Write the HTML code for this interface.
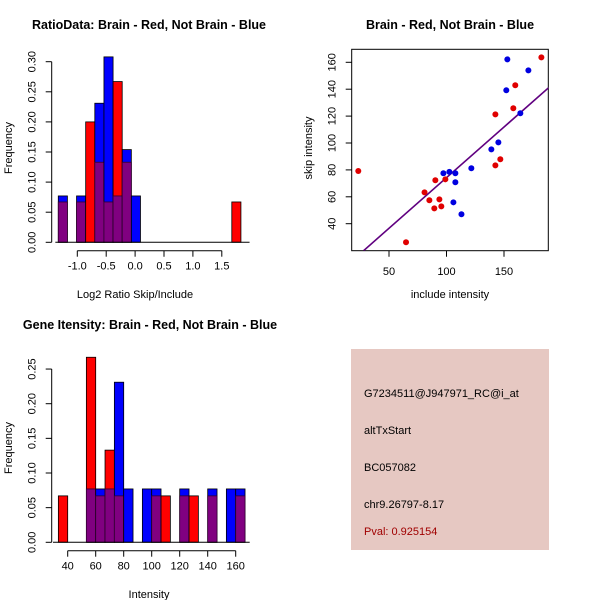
<!DOCTYPE html>
<html><head><meta charset="utf-8"><style>
html,body{margin:0;padding:0;background:#fff}
svg{display:block;font-family:"Liberation Sans",sans-serif}
</style></head><body>
<svg id="c" width="600" height="600" viewBox="0 0 600 600">
<rect width="600" height="600" fill="#fff"/>
<text x="149" y="29" text-anchor="middle" font-weight="bold" font-size="12.5">RatioData: Brain - Red, Not Brain - Blue</text>
<text x="450" y="29" text-anchor="middle" font-weight="bold" font-size="12.5">Brain - Red, Not Brain - Blue</text>
<text x="150" y="329" text-anchor="middle" font-weight="bold" font-size="12.5">Gene Itensity: Brain - Red, Not Brain - Blue</text>
<text x="135" y="298" text-anchor="middle" font-size="11">Log2 Ratio Skip/Include</text>
<text x="12" y="148" text-anchor="middle" font-size="11" transform="rotate(-90 12 148)">Frequency</text>
<text x="450" y="298" text-anchor="middle" font-size="11">include intensity</text>
<text x="312" y="148" text-anchor="middle" font-size="11" transform="rotate(-90 312 148)">skip intensity</text>
<text x="149" y="598" text-anchor="middle" font-size="11">Intensity</text>
<text x="12" y="448" text-anchor="middle" font-size="11" transform="rotate(-90 12 448)">Frequency</text>
<g>
<rect x="351" y="349" width="198" height="201" fill="#e6c8c2"/>
<text x="364" y="397" font-size="11">G7234511@J947971_RC@i_at</text>
<text x="364" y="434" font-size="11">altTxStart</text>
<text x="364" y="471" font-size="11">BC057082</text>
<text x="364" y="508" font-size="11">chr9.26797-8.17</text>
<text x="364" y="535" font-size="11" fill="#a00000">Pval: 0.925154</text>
</g>
</svg>
<script>
// Ratio histogram data
const ratioBinStart=-1.329, ratioBinWidth=0.158;
const ratioBlue=[0.077,0,0.077,0,0.231,0.308,0.077,0.154,0.077,0,0,0,0,0,0,0,0,0,0,0];
const ratioRed=[0.067,0,0.067,0.2,0.133,0.067,0.267,0.133,0,0,0,0,0,0,0,0,0,0,0,0.067];
const ratioXTicks=[-1.0,-0.5,0.0,0.5,1.0,1.5];
const ratioXLabels=["-1.0","-0.5","0.0","0.5","1.0","1.5"];
const ratioYTicks=[0,0.05,0.10,0.15,0.20,0.25,0.30];
const ratioYLabels=["0.00","0.05","0.10","0.15","0.20","0.25","0.30"];
// Intensity histogram data
const intBinStart=33.33, intBinWidth=6.667;
const intBlue=[0,0,0,0.077,0.077,0.077,0.231,0.077,0,0.077,0.077,0,0,0.077,0,0,0.077,0,0.077,0.077];
const intRed=[0.067,0,0,0.267,0.067,0.133,0.067,0,0,0,0.067,0.067,0,0.067,0.067,0,0.067,0,0,0.067];
const intXTicks=[40,60,80,100,120,140,160];
const intYTicks=[0,0.05,0.10,0.15,0.20,0.25];
const intYLabels=["0.00","0.05","0.10","0.15","0.20","0.25"];
// Scatter data
const redX=[23.3,64.8,80.9,85.1,89.4,90.3,93.8,95.5,99,142.5,142.5,146.8,158.1,159.8,182.5];
const redY=[79.2,26.2,63.3,57.4,51.4,72.3,58.1,52.9,73,121.3,83.4,87.9,125.8,142.9,163.7];
const blueX=[97.3,102.5,107.7,107.7,106,113,121.6,139,145.1,152,152.9,164.2,171.2];
const blueY=[77.5,78.5,77.5,70.8,55.9,47,81.2,95.3,100.5,139.2,162.2,122.1,154];
const fitX=[28,190];
const fitY=[20,142];
const scXTicks=[50,100,150];
const scYTicks=[40,60,80,100,120,140,160];

const svg=document.getElementById('c');
const NS='http://www.w3.org/2000/svg';
function mk(tag,attrs){const e=document.createElementNS(NS,tag);for(const k in attrs)e.setAttribute(k,attrs[k]);svg.appendChild(e);return e;}

function hist(blue,red,bs,bw,sx,sy,prefix){
  for(let i=0;i<blue.length;i++){
    const x0=sx(bs+i*bw),x1=sx(bs+(i+1)*bw);
    const b=blue[i],r=red[i];
    if(b===0&&r===0)continue;
    const hi=Math.max(b,r),lo=Math.min(b,r);
    const r1=mk('rect',{x:x0,y:sy(hi),width:x1-x0,height:sy(0)-sy(hi),fill:b>=r?'#0000ff':'#ff0000',stroke:'#000',"stroke-width":0.8});
    
    
    if(lo>0){
      const r2=mk('rect',{x:x0,y:sy(lo),width:x1-x0,height:sy(0)-sy(lo),fill:'#800080',stroke:'#300030',"stroke-width":0.8});
      
      
    }
  }
}
function yAxis(x,ticks,labels,sy,name){
  const l=mk('line',{x1:x,x2:x,y1:sy(ticks[0]),y2:sy(ticks[ticks.length-1]),stroke:'#000'});
  
  
  ticks.forEach((t,i)=>{
    mk('line',{x1:x,x2:x-6,y1:sy(t),y2:sy(t),stroke:'#000'});
    const tx=mk('text',{x:x-16,y:sy(t),"text-anchor":"middle","font-size":11,transform:`rotate(-90 ${x-16} ${sy(t)})`});
    tx.textContent=labels[i];
    
    
  });
}
function xAxis(y,ticks,labels,sx,name){
  const l=mk('line',{x1:sx(ticks[0]),x2:sx(ticks[ticks.length-1]),y1:y,y2:y,stroke:'#000'});
  
  
  ticks.forEach((t,i)=>{
    mk('line',{x1:sx(t),x2:sx(t),y1:y,y2:y+6,stroke:'#000'});
    const tx=mk('text',{x:sx(t),y:y+19,"text-anchor":"middle","font-size":11});
    tx.textContent=labels[i];
    
    
  });
}
// Ratio histogram
const rsx=v=>135.1+v*57.8, rsy=v=>242.3-v*602;
hist(ratioBlue,ratioRed,ratioBinStart,ratioBinWidth,rsx,rsy,'ratio');
mk('line',{x1:rsx(-1.38),x2:rsx(1.98),y1:rsy(0),y2:rsy(0),stroke:'#000'});
yAxis(51.7,ratioYTicks,ratioYLabels,rsy,'ratio-y-axis');
xAxis(250.7,ratioXTicks,ratioXLabels,rsx,'ratio-x-axis');
// Intensity histogram
const isx=v=>11.7+v*1.4, isy=v=>542.3-v*693;
hist(intBlue,intRed,intBinStart,intBinWidth,isx,isy,'intensity');
mk('line',{x1:isx(29.5),x2:isx(170),y1:isy(0),y2:isy(0),stroke:'#000'});
yAxis(51.7,intYTicks,intYLabels,isy,'intensity-y-axis');
xAxis(550.7,intXTicks,intXTicks.map(String),isx,'intensity-x-axis');
// Scatter
const ssx=v=>331.5+v*1.15, ssy=v=>277.5-v*1.345;
const box=mk('rect',{x:351.7,y:49.3,width:196.6,height:201.4,fill:'none',stroke:'#000'});


const cp=document.createElementNS(NS,'clipPath');cp.id='cl';
const cr=document.createElementNS(NS,'rect');cr.setAttribute('x',351.7);cr.setAttribute('y',49.3);cr.setAttribute('width',196.6);cr.setAttribute('height',201.4);cp.appendChild(cr);svg.appendChild(cp);
const fl=mk('line',{x1:ssx(fitX[0]),y1:ssy(fitY[0]),x2:ssx(fitX[1]),y2:ssy(fitY[1]),stroke:'#600080',"stroke-width":1.6,"clip-path":"url(#cl)"});


redX.forEach((x,i)=>{const c=mk('circle',{cx:ssx(x),cy:ssy(redY[i]),r:3,fill:'#e00000'});

});
blueX.forEach((x,i)=>{const c=mk('circle',{cx:ssx(x),cy:ssy(blueY[i]),r:3,fill:'#0000e0'});

});
scXTicks.forEach(t=>{mk('line',{x1:ssx(t),x2:ssx(t),y1:250.7,y2:256.7,stroke:'#000'});
const tx=mk('text',{x:ssx(t),y:275,"text-anchor":"middle","font-size":11});tx.textContent=t;

});
scYTicks.forEach(t=>{mk('line',{x1:351.7,x2:345.7,y1:ssy(t),y2:ssy(t),stroke:'#000'});
const tx=mk('text',{x:335.7,y:ssy(t),"text-anchor":"middle","font-size":11,transform:`rotate(-90 335.7 ${ssy(t)})`});tx.textContent=t;

});
</script>
</body></html>
